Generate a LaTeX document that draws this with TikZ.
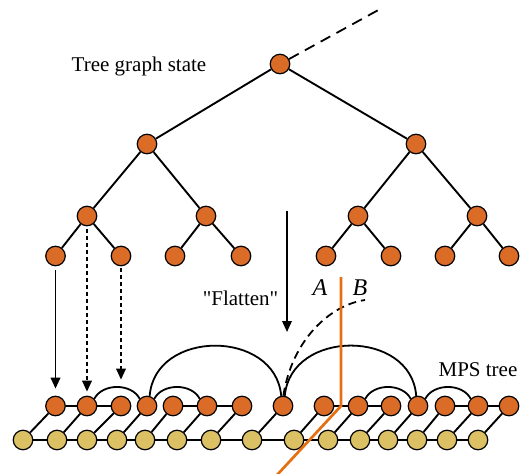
\documentclass[tikz,border=0pt]{standalone}
\usepackage{fontspec}
\setmainfont{Liberation Serif}
\newfontfamily\plainserif[Ligatures=TeXOff]{Liberation Serif}
\usetikzlibrary{arrows.meta,backgrounds}
\definecolor{nodeor}{RGB}{218,108,40}
\definecolor{nodeye}{RGB}{219,193,100}
\definecolor{cutor}{RGB}{228,112,18}

\begin{document}
\begin{tikzpicture}[x=1pt,y=-1pt,
  tn/.style={circle,draw=black,line width=1.2pt,fill=nodeor,minimum size=19.5pt,inner sep=0pt},
  yn/.style={tn,fill=nodeye},
  edge/.style={line width=1.9pt},
  arc/.style={line width=1.8pt},
  rootdash/.style={line width=1.8pt,dash pattern=on 11pt off 7pt},
  dashline/.style={line width=1.8pt,dash pattern=on 8pt off 5pt},
  dotarrow/.style={line width=1.9pt,dash pattern=on 4pt off 3pt,-{Triangle[length=11pt,width=9.5pt]}},
  solidarrow/.style={line width=1.9pt,-{Triangle[length=11pt,width=9.5pt]}},
  lbl/.style={font=\fontsize{21}{24}\selectfont,anchor=base,inner sep=0pt},
  cut/.style={line width=2.7pt,draw=cutor}
]
\useasboundingbox (0,0) rectangle (525,474);

% ---- tree graph state ----
\node[tn] (r)  at (280,64) {};
\node[tn] (a)  at (147,144) {};
\node[tn] (b)  at (416,144) {};
\node[tn] (aa) at (87,216) {};
\node[tn] (ab) at (206,216) {};
\node[tn] (ba) at (358,216) {};
\node[tn] (bb) at (477,216) {};
\node[tn] (l1) at (55.5,256) {};
\node[tn] (l2) at (121,256) {};
\node[tn] (l3) at (175,256) {};
\node[tn] (l4) at (241,256) {};
\node[tn] (l5) at (326,256) {};
\node[tn] (l6) at (391,256) {};
\node[tn] (l7) at (445,256) {};
\node[tn] (l8) at (509,256) {};
\coordinate (up) at (382,8);

\begin{scope}[on background layer]
  \draw[edge] (r) -- (a) (r) -- (b)
              (a) -- (aa) (a) -- (ab) (b) -- (ba) (b) -- (bb)
              (aa) -- (l1) (aa) -- (l2) (ab) -- (l3) (ab) -- (l4)
              (ba) -- (l5) (ba) -- (l6) (bb) -- (l7) (bb) -- (l8);
  \draw[rootdash] (r) -- (up);
\end{scope}

\node[lbl] (tgs) at (139,71) {Tree graph state};

% ---- MPS tree: physical chain and virtual chain ----
\foreach \x [count=\i] in {55.5,87,121,147,173,207,242,283,324,358,391,418,445,478,509}
  \node[tn] (m\i) at (\x,406) {};
\foreach \x [count=\i] in {23,57,87,117,145,177,211,252,294,328,360,388,417,447,478}
  \node[yn] (y\i) at (\x,440) {};

\begin{scope}[on background layer]
  \foreach \i [evaluate=\i as \j using int(\i+1)] in {1,...,14}
    \draw[edge] (y\i) -- (y\j);
  \foreach \i in {1,...,15}
    \draw[edge] (y\i) -- (m\i);
  \draw[edge] (m1) -- (m2) -- (m3) (m5) -- (m6) -- (m7)
              (m9) -- (m10) -- (m11) (m13) -- (m14) -- (m15);
\end{scope}

% long-range bonds of the tree
\draw[arc] (m2.45) to[out=62,in=118] (m4.135);
\draw[arc] (m4.45) to[out=62,in=118] (m6.135);
\draw[arc] (m10.45) to[out=62,in=118] (m12.135);
\draw[arc] (m12.45) to[out=62,in=118] (m14.135);
\draw[arc] (m4.75) .. controls +(5,-67) and +(-6,-67) .. (m8.100);
\draw[arc] (m8.80) .. controls +(6,-67) and +(-5,-67) .. (m12.100);

\coordinate (bend) at (365,300);
\draw[dashline] (m8.88) .. controls (292,340) and (330,305) .. (bend);

% ---- flattening arrows ----
\draw[solidarrow, shorten <=4pt, shorten >=7pt] (l1) -- (m1);
\draw[dotarrow, shorten <=3pt, shorten >=4pt] (aa) -- (m2);
\draw[dotarrow, shorten <=2pt, shorten >=16pt] (l2) -- (m3);

\coordinate (fa) at (287,211);
\coordinate (fb) at (287,332);
\draw[solidarrow] (fa) -- (fb);
\node[lbl,font=\fontsize{21}{24}\selectfont\plainserif] (flat) at (240.5,305) {"Flatten"};
\node[lbl] (mps) at (478,376) {MPS tree};

% ---- bipartition cut ----
\coordinate (c1) at (341,277);
\coordinate (c2) at (341,406);
\coordinate (c3) at (277,475);
\draw[cut] (c1) -- (c2) -- (c3);
\node[lbl,font=\fontsize{24}{28}\selectfont\itshape] (la) at (320,295) {A};
\node[lbl,font=\fontsize{24}{28}\selectfont\itshape] (lb) at (360,295) {B};
\end{tikzpicture}
\end{document}
